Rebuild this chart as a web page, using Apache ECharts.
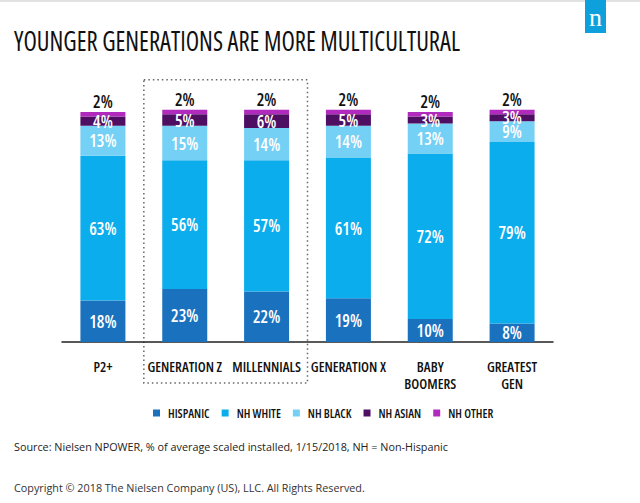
<!DOCTYPE html>
<html>
<head>
<meta charset="utf-8">
<script src="https://cdn.jsdelivr.net/npm/echarts@6/dist/echarts.min.js"></script>
<style>
html,body{margin:0;padding:0;background:#fff;}
#c{width:640px;height:503px;}
#c svg text{font-stretch:condensed;}
</style>
</head>
<body>
<div id="c"></div>
<script>
var categories = ['P2+', 'GENERATION Z', 'MILLENNIALS', 'GENERATION X', 'BABY\nBOOMERS', 'GREATEST\nGEN'];
var hispanic = [18, 23, 22, 19, 10, 8];
var nhWhite  = [63, 56, 57, 61, 72, 79];
var nhBlack  = [13, 15, 14, 14, 13, 9];
var nhAsian  = [4, 5, 6, 5, 3, 3];
var nhOther  = [2, 2, 2, 2, 2, 2];
var seriesNames = ['HISPANIC', 'NH WHITE', 'NH BLACK', 'NH ASIAN', 'NH OTHER'];
var colors = ['#1a72bf', '#0badec', '#74d0f4', '#4e0f63', '#b02bbd'];

var FAM = '"Open Sans", sans-serif';
var chart = echarts.init(document.getElementById('c'), null, {renderer: 'svg'});

function inner(name, data, color) {
  return {
    name: name, type: 'bar', stack: 'all', data: data, barWidth: 45,
    itemStyle: {color: color},
    label: {show: true, position: 'inside', color: '#fff', fontFamily: FAM, fontStyle: 'condensed',
            fontWeight: 600, fontSize: 17, formatter: '{c}%'}
  };
}

var series = [
  inner(seriesNames[0], hispanic, colors[0]),
  inner(seriesNames[1], nhWhite, colors[1]),
  inner(seriesNames[2], nhBlack, colors[2]),
  inner(seriesNames[3], nhAsian, colors[3]),
  {
    name: seriesNames[4], type: 'bar', stack: 'all', data: nhOther, barWidth: 45,
    itemStyle: {color: colors[4]},
    label: {show: true, position: 'top', distance: 2, color: '#111', fontFamily: FAM, fontStyle: 'condensed',
            fontWeight: 600, fontSize: 17, formatter: '{c}%'}
  }
];

chart.setOption({
  animation: false,
  color: colors,
  grid: {left: 62, right: 87, top: 89, height: 253, containLabel: false},
  xAxis: {
    type: 'category', data: categories,
    axisLine: {show: true, lineStyle: {color: '#222', width: 1.5}},
    axisTick: {show: false},
    axisLabel: {color: '#111', fontFamily: FAM, fontStyle: 'condensed', fontWeight: 600, fontSize: 14,
                lineHeight: 17, margin: 16, interval: 0}
  },
  yAxis: {type: 'value', min: 0, max: 110, show: false, splitLine: {show: false}},
  legend: {
    data: seriesNames, left: 148, top: 402, icon: 'rect', itemWidth: 7, itemHeight: 7, itemGap: 12,
    textStyle: {color: '#111', fontFamily: FAM, fontStyle: 'condensed', fontWeight: 600, fontSize: 12,
                padding: [0, 0, 0, 3]}
  },
  series: series,
  graphic: [
    {type: 'rect', shape: {x: 0, y: 0, width: 640, height: 2}, style: {fill: '#e2e2e2'}},
    {type: 'rect', shape: {x: 585, y: 0, width: 21, height: 33}, style: {fill: '#0ea0dd'}},
    {type: 'text', x: 595.5, y: 17, style: {text: 'n', fill: '#fff', font: 'normal 26px "Liberation Serif", "DejaVu Serif", serif',
      textAlign: 'center', textVerticalAlign: 'middle'}},
    {type: 'text', x: 14, y: 40, scaleX: 0.878, style: {text: 'YOUNGER GENERATIONS ARE MORE MULTICULTURAL', fill: '#111',
      font: 'condensed 500 28px "Open Sans"', textVerticalAlign: 'middle'}},
    {type: 'text', x: 14, y: 446, style: {text: 'Source: Nielsen NPOWER, % of average scaled installed, 1/15/2018, NH = Non-Hispanic',
      fill: '#222', font: 'normal 10.8px "Open Sans", sans-serif', textVerticalAlign: 'middle'}},
    {type: 'text', x: 14, y: 487, style: {text: 'Copyright \u00a9 2018 The Nielsen Company (US), LLC. All Rights Reserved.',
      fill: '#333', font: 'normal 10.8px "Open Sans", sans-serif', textVerticalAlign: 'middle'}}
  ]
});

// dotted box around Generation Z and Millennials, from the axis scale
var p0 = chart.convertToPixel({xAxisIndex: 0}, categories[0]);
var p1 = chart.convertToPixel({xAxisIndex: 0}, categories[1]);
var p2 = chart.convertToPixel({xAxisIndex: 0}, categories[2]);
var band = p1 - p0;
var x0 = p1 - band / 2, x1 = p2 + band / 2;
var yTop = chart.convertToPixel({yAxisIndex: 0}, 114);
chart.setOption({
  graphic: [
    {type: 'rect', id: 'box', shape: {x: x0, y: yTop, width: x1 - x0, height: 383 - yTop},
     style: {fill: 'none', stroke: '#666', lineWidth: 1.5, lineDash: [1.5, 3]}}
  ]
});
</script>
</body>
</html>
